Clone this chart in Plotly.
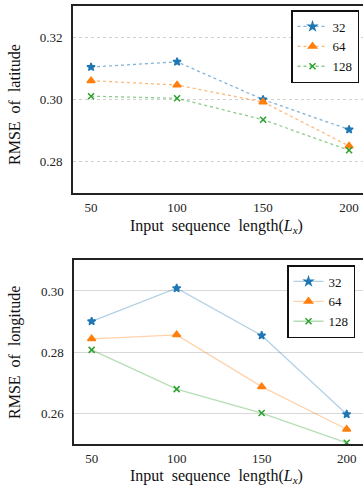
import plotly.graph_objects as go

x_len = [50, 100, 150, 200]
series_names = ["32", "64", "128"]
lat_32 = [0.3104, 0.3121, 0.2999, 0.2902]
lat_64 = [0.3060, 0.3046, 0.2991, 0.2849]
lat_128 = [0.3010, 0.3003, 0.2934, 0.2835]
lon_32 = [0.2901, 0.3009, 0.2855, 0.2598]
lon_64 = [0.2844, 0.2857, 0.2688, 0.2549]
lon_128 = [0.2808, 0.2680, 0.2602, 0.2505]
lat_ticks = [0.28, 0.30, 0.32]
lon_ticks = [0.26, 0.28, 0.30]
x_ticks = [50, 100, 150, 200]

colors = ["#1f77b4", "#ff7f0e", "#2ca02c"]
line_rgba = ["rgba(31,119,180,0.55)", "rgba(255,127,14,0.55)", "rgba(44,160,44,0.55)"]
line_rgba2 = ["rgba(31,119,180,0.35)", "rgba(255,127,14,0.35)", "rgba(44,160,44,0.35)"]
symbols = ["star", "triangle-up", "x-thin-open"]
msizes = [6, 7, 6]

FONT = "Liberation Serif, DejaVu Serif, serif"
fig = go.Figure()

for i, (name, ys) in enumerate(zip(series_names, [lat_32, lat_64, lat_128])):
    fig.add_trace(go.Scatter(
        x=x_len, y=ys, name=name, mode="lines+markers",
        line=dict(color=line_rgba[i], width=1.3, dash="dot"),
        marker=dict(symbol=symbols[i], size=msizes[i], color=colors[i],
                    line=dict(color=colors[i], width=1.5)),
        xaxis="x", yaxis="y", legend="legend"))

for i, (name, ys) in enumerate(zip(series_names, [lon_32, lon_64, lon_128])):
    fig.add_trace(go.Scatter(
        x=x_len, y=ys, name=name, mode="lines+markers",
        line=dict(color=line_rgba2[i], width=1.3),
        marker=dict(symbol=symbols[i], size=msizes[i], color=colors[i],
                    line=dict(color=colors[i], width=1.5)),
        xaxis="x2", yaxis="y2", legend="legend2"))

W = 363.0
H = 489.0


def px(v):
    return v / W


def py(v):
    return 1 - v / H


def ax_common():
    return dict(showline=True, linecolor="#222", linewidth=2, zeroline=False,
                tickfont=dict(family=FONT, size=13, color="#222"))


xa = ax_common()
xa.update(domain=[px(73), 1], range=[39.5, 208.1], tickvals=x_ticks, mirror=True,
          showgrid=False, anchor="y", ticks="outside", ticklen=1, tickcolor="rgba(0,0,0,0)")
ya = ax_common()
ya.update(domain=[py(193), py(5.5)], range=[0.2697, 0.3303], tickvals=lat_ticks,
          tickformat=".2f", showgrid=True, gridcolor="#d0d0d0", griddash="dot",
          gridwidth=1, anchor="x", ticks="outside", ticklen=6, tickcolor="rgba(0,0,0,0)")
xa2 = ax_common()
xa2.update(domain=[px(74.3), 1], range=[39.8, 209.6], tickvals=x_ticks, mirror=True,
           showgrid=False, anchor="y2", ticks="outside", ticklen=1, tickcolor="rgba(0,0,0,0)")
ya2 = ax_common()
ya2.update(domain=[py(444), py(260.3)], range=[0.2501, 0.3100], tickvals=lon_ticks,
           tickformat=".2f", showgrid=True, gridcolor="#d8d8d8", gridwidth=1, anchor="x2",
           ticks="outside", ticklen=6, tickcolor="rgba(0,0,0,0)")

leg = dict(font=dict(family=FONT, size=13, color="#111"), bordercolor="#111", borderwidth=1.5,
           bgcolor="white", xanchor="left", yanchor="top", itemwidth=30,
           tracegroupgap=0)
leg1 = dict(leg); leg1.update(x=px(291), y=py(10), xref="paper", yref="paper")
leg2 = dict(leg); leg2.update(x=px(287), y=py(265), xref="paper", yref="paper")

sp = "\u00a0"
xtitle = f"Input{sp}{sp}sequence{sp}{sp}length(<i>L</i><sub><i>x</i></sub>)"
tfont = dict(family=FONT, size=16, color="#111")
annotations = [
    dict(text=xtitle, x=px(216), y=py(226), xref="paper", yref="paper",
         xanchor="center", yanchor="middle", showarrow=False, font=tfont),
    dict(text=xtitle, x=px(216), y=py(476), xref="paper", yref="paper",
         xanchor="center", yanchor="middle", showarrow=False, font=tfont),
    dict(text=f"RMSE{sp}{sp}of{sp}{sp}latitude", x=px(15), y=py(105), xref="paper", yref="paper",
         xanchor="center", yanchor="middle", showarrow=False, textangle=-90, font=tfont),
    dict(text=f"RMSE{sp}{sp}of{sp}{sp}longitude", x=px(15), y=py(353), xref="paper", yref="paper",
         xanchor="center", yanchor="middle", showarrow=False, textangle=-90, font=tfont),
]

fig.update_layout(
    width=W, height=H, margin=dict(l=0, r=0, t=0, b=0, autoexpand=False),
    paper_bgcolor="white", plot_bgcolor="white",
    xaxis=xa, yaxis=ya, xaxis2=xa2, yaxis2=ya2,
    legend=leg1, legend2=leg2, annotations=annotations, showlegend=True,
)

fig.write_html("out.html", config={"displayModeBar": False},
               post_script="document.body.style.margin='0';document.body.style.overflow='hidden';")
